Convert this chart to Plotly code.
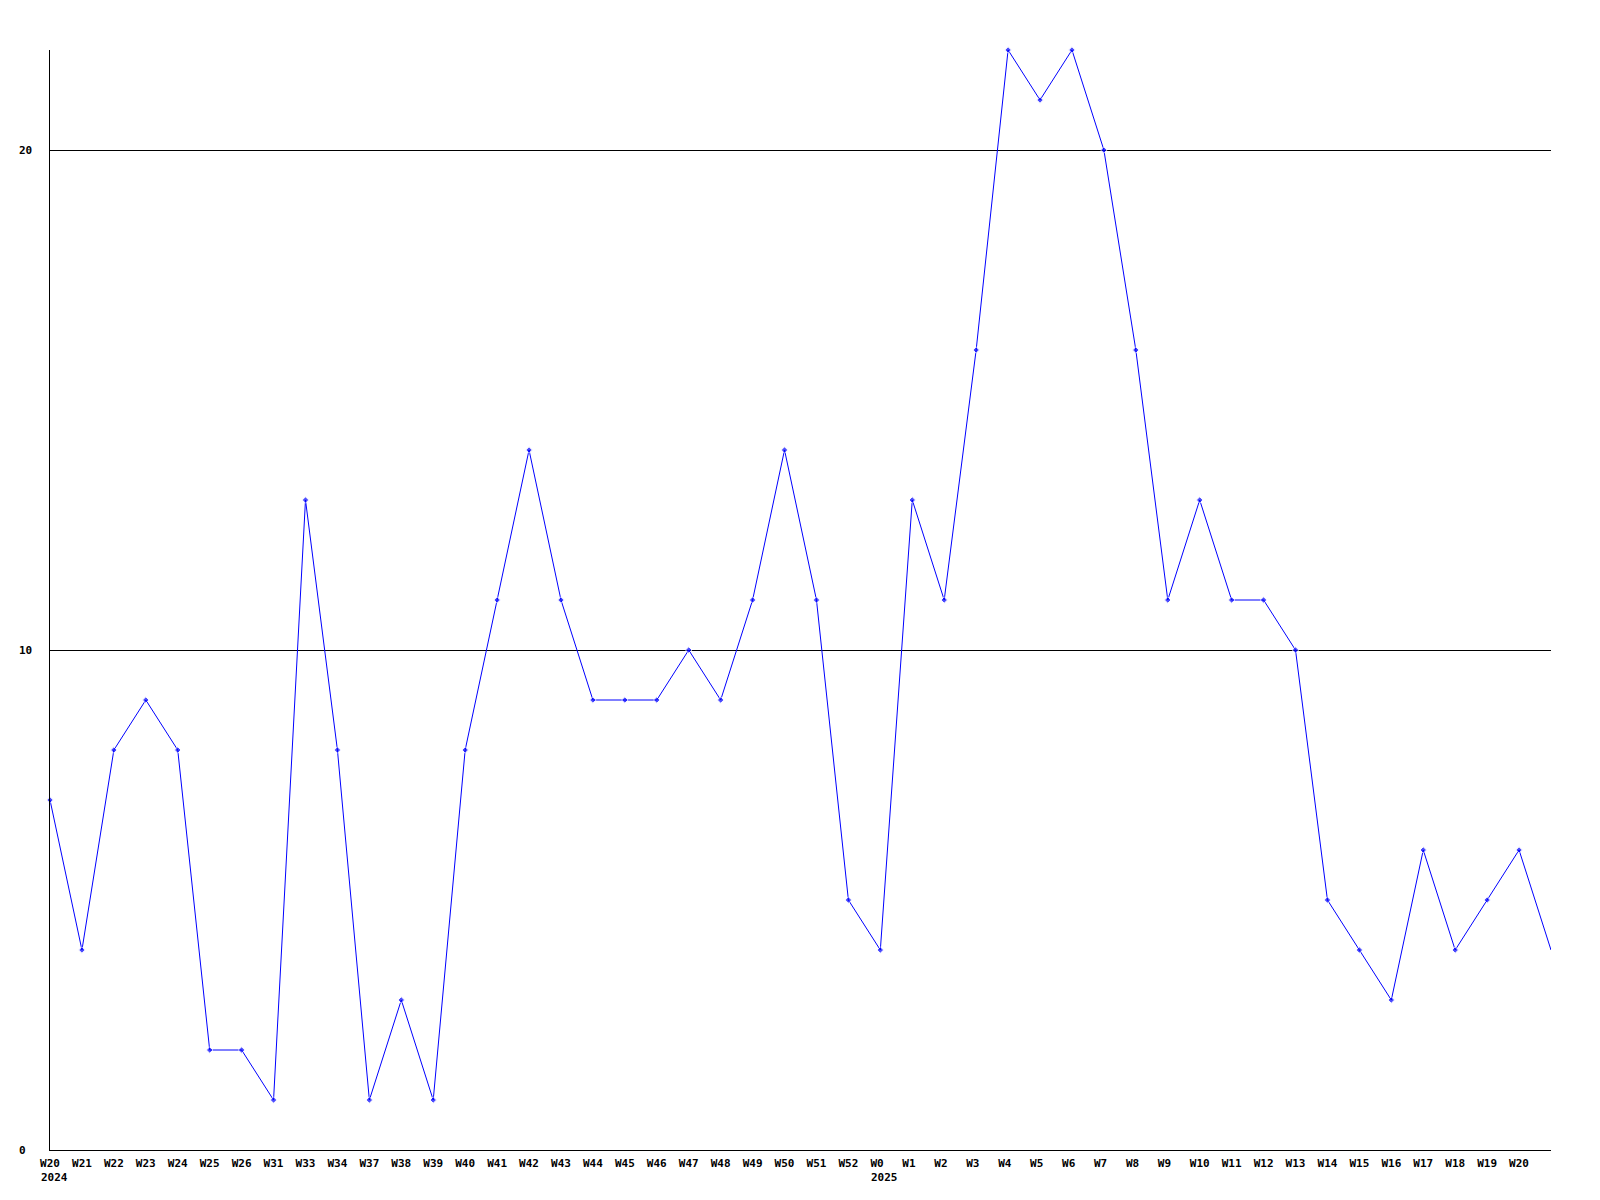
import plotly.graph_objects as go

week_labels = ["W20", "W21", "W22", "W23", "W24", "W25", "W26", "W31", "W33", "W34",
               "W37", "W38", "W39", "W40", "W41", "W42", "W43", "W44", "W45", "W46",
               "W47", "W48", "W49", "W50", "W51", "W52", "W0", "W1", "W2", "W3",
               "W4", "W5", "W6", "W7", "W8", "W9", "W10", "W11", "W12", "W13",
               "W14", "W15", "W16", "W17", "W18", "W19", "W20"]
# last value continues to the right edge (unlabelled following week)
values = [7, 4, 8, 9, 8, 2, 2, 1, 13, 8,
          1, 3, 1, 8, 11, 14, 11, 9, 9, 9,
          10, 9, 11, 14, 11, 5, 4, 13, 11, 16,
          22, 21, 22, 20, 16, 11, 13, 11, 11, 10,
          5, 4, 3, 6, 4, 5, 6, 4]
year_labels = [(0, "2024"), (26, "2025")]
y_ticks = [0, 10, 20]

x = list(range(len(values)))
marker_sizes = [5] * (len(values) - 1) + [0]

FONT = "DejaVu Sans Mono"

fig = go.Figure()
fig.add_trace(go.Scatter(
    x=x, y=values, mode="lines+markers",
    line=dict(color="#0000ff", width=1),
    marker=dict(symbol="diamond", size=marker_sizes, color="#0000ff"),
    cliponaxis=False, showlegend=False,
))

ticktext = [lab + "\u00a0" * (3 - len(lab)) for lab in week_labels]

fig.update_xaxes(
    range=[0, len(values) - 1], tickmode="array",
    tickvals=list(range(len(week_labels))), ticktext=ticktext,
    showgrid=False, zeroline=False, showline=True, linecolor="black", linewidth=1,
    ticks="", tickfont=dict(family=FONT, size=11, color="black", weight="bold"),
    ticklabelstandoff=3,
)
fig.update_yaxes(
    range=[0, 22], tickmode="array", tickvals=y_ticks, showticklabels=False,
    showgrid=True, gridcolor="black", gridwidth=1, zeroline=False,
    showline=True, linecolor="black", linewidth=1, ticks="",
)

annotations = []
for idx, yr in year_labels:
    annotations.append(dict(
        x=idx, y=0, xref="x", yref="y", text=yr, showarrow=False,
        xanchor="left", yanchor="middle", xshift=-11, yshift=-27,
        font=dict(family=FONT, size=11, color="black", weight="bold"),
    ))
for t in y_ticks:
    annotations.append(dict(
        x=0, y=t, xref="paper", yref="y", text=str(t), showarrow=False,
        xanchor="left", yanchor="middle", xshift=-33,
        font=dict(family=FONT, size=11, color="black", weight="bold"),
    ))

fig.update_layout(
    width=1600, height=1200,
    margin=dict(l=42, r=57, t=42, b=58),
    paper_bgcolor="white", plot_bgcolor="white",
    annotations=annotations,
)

fig.write_html("out.html")
